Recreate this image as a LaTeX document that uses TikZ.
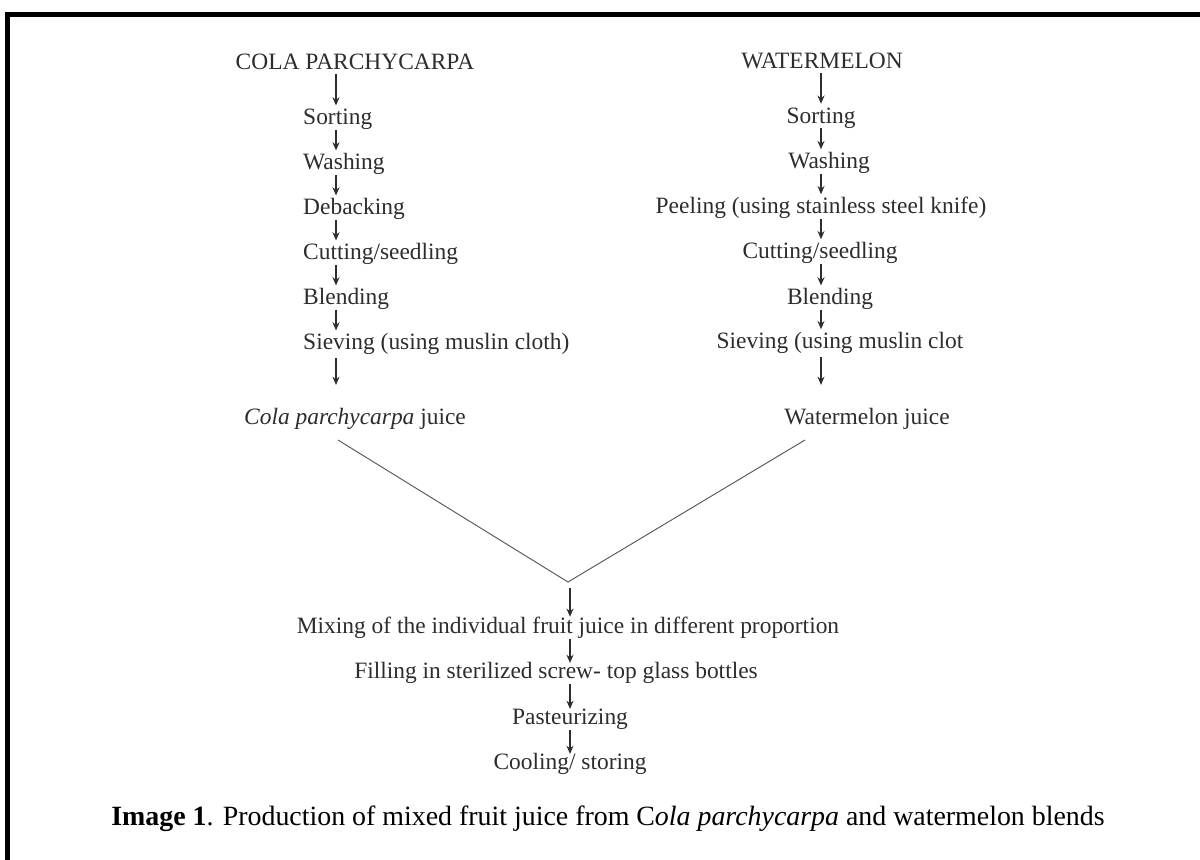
\documentclass[tikz,border=0pt]{standalone}
\usepackage{fontspec}
\setmainfont{Liberation Serif}
\usetikzlibrary{positioning, arrows.meta, calc}
\definecolor{inkgray}{RGB}{45,45,45}
\newcommand\stagefont{\fontsize{20}{22}\selectfont}
\newcommand\capfont{\fontsize{23.8}{27}\selectfont}

\begin{document}
\begin{tikzpicture}[x=0.03cm, y=-0.03cm, >=Stealth,
    stage/.style={font=\stagefont, text=inkgray, inner sep=0pt,
      text height=13pt, text depth=4pt},
    flow/.style={->, line width=1.1pt, draw=inkgray,
      arrows={-Stealth[length=7pt, width=6pt]}, shorten <=0pt, shorten >=3.5pt},
    mergeline/.style={line width=0.8pt, draw=inkgray!80}]
  \clip (0,0) rectangle (1200,859);
  \fill[white] (0,0) rectangle (1200,859);
  \draw[line width=4.3pt] (7.5,14.5) rectangle (1300,1000);

  % arrow axes
  \coordinate (laxis) at (336,0);
  \coordinate (raxis) at (821,0);
  \coordinate (baxis) at (570,0);

  % left column
  \node[stage] (lcola) at (355,64) {COLA PARCHYCARPA};
  \node[stage, anchor=west] (lsort) at (303,119.7) {Sorting};
  \node[stage, anchor=west] (lwash) at (303,164.7) {Washing};
  \node[stage, anchor=west] (ldeback) at (303,209.7) {Debacking};
  \node[stage, anchor=west] (lcut) at (303,254.7) {Cutting/seedling};
  \node[stage, anchor=west] (lblend) at (303,299.7) {Blending};
  \node[stage, anchor=west] (lsieve) at (303,344.7) {Sieving (using muslin cloth)};
  \node[stage] (ljuice) at (355,419.7) {\textit{Cola parchycarpa} juice};

  % right column
  \node[stage] (rmelon) at (822,63) {WATERMELON};
  \node[stage] (rsort) at (821,118) {Sorting};
  \node[stage] (rwash) at (829,163.5) {Washing};
  \node[stage] (rpeel) at (821,208.5) {Peeling (using stainless steel knife)};
  \node[stage] (rcut) at (820,253.5) {Cutting/seedling};
  \node[stage] (rblend) at (830,299.7) {Blending};
  \node[stage] (rsieve) at (840,343.5) {Sieving (using muslin clot};
  \node[stage] (rjuice) at (867,419.7) {Watermelon juice};

  % common steps
  \coordinate (merge) at (568,582);
  \coordinate (lend) at (338,440);
  \coordinate (rend) at (805,440);
  \node[stage] (mix) at (568,628.7) {Mixing of the individual fruit juice in different proportion};
  \node[stage] (fill) at (556,673.7) {Filling in sterilized screw- top glass bottles};
  \node[stage] (past) at (570,719.7) {Pasteurizing};
  \node[stage] (cool) at (570,764.7) {Cooling/ storing};

  \node[font=\capfont, anchor=base] (caption) at (608,825)
    {\textbf{Image 1}. Production of mixed fruit juice from C\textit{ola parchycarpa} and watermelon blends};

  % connectors
  \foreach \a/\b in {lcola/lsort, lsort/lwash, lwash/ldeback, ldeback/lcut,
                     lcut/lblend, lblend/lsieve}
    \draw[flow] (\a.south -| laxis) -- (\b.north -| laxis);
  \draw[flow, shorten <=3pt, shorten >=21pt] (lsieve.south -| laxis) -- (ljuice.north -| laxis);

  \foreach \a/\b in {rmelon/rsort, rsort/rwash, rwash/rpeel, rpeel/rcut,
                     rcut/rblend, rblend/rsieve}
    \draw[flow] (\a.south -| raxis) -- (\b.north -| raxis);
  \draw[flow, shorten <=3pt, shorten >=21pt] (rsieve.south -| raxis) -- (rjuice.north -| raxis);

  \draw[mergeline] (lend) -- (merge) -- (rend);
  \draw[flow, shorten <=5pt, shorten >=1.5pt] (merge -| baxis) -- (mix.north -| baxis);
  \foreach \a/\b in {mix/fill, fill/past, past/cool}
    \draw[flow, shorten <=0pt, shorten >=0.5pt] (\a.south -| baxis) -- (\b.north -| baxis);
\end{tikzpicture}
\end{document}
